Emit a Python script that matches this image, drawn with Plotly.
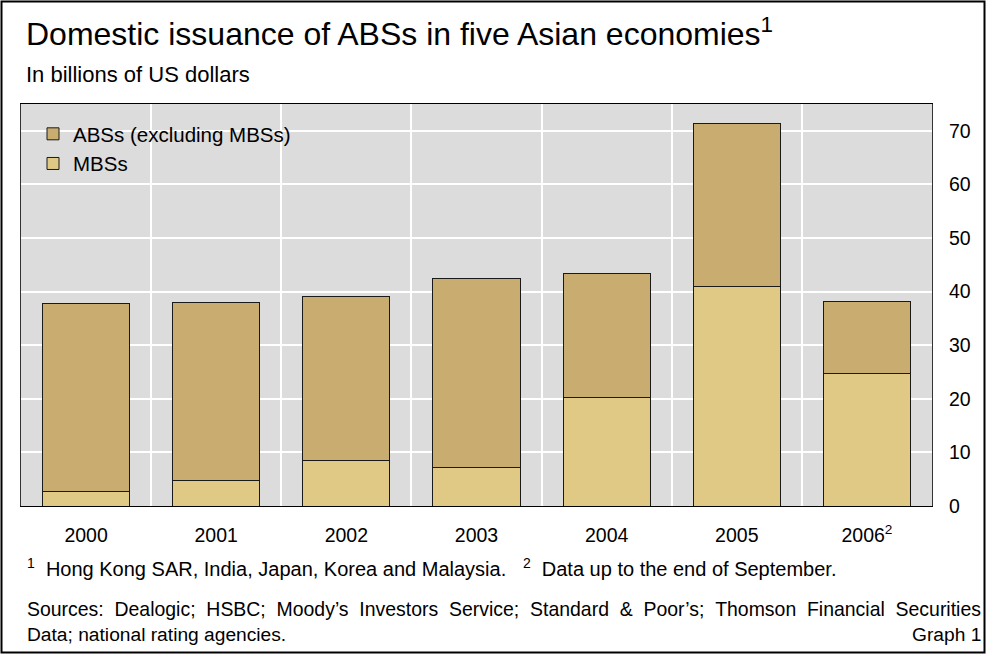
import plotly.graph_objects as go

# ---- data ----
years = ["2000", "2001", "2002", "2003", "2004", "2005", "2006"]
tick_labels = ["2000", "2001", "2002", "2003", "2004", "2005", "2006<sup>2</sup>"]
mbs = [2.7, 4.7, 8.5, 7.2, 20.2, 40.9, 24.8]
abs_ex_mbs = [35.0, 33.3, 30.6, 35.3, 23.1, 30.5, 13.3]

W, H = 992, 655
L, R, T, B = 21, 60, 104, 149
PW, PH = W - L - R, H - T - B

def fx(px):
    return (px - L) / PW

def fy(py):
    return (H - B - py) / PH

FONT = "Arial, Liberation Sans, sans-serif"

fig = go.Figure()
fig.add_trace(go.Bar(
    x=years, y=mbs, name="MBSs", legendrank=2,
    marker=dict(color="#E0C985", line=dict(color="#1a1a1a", width=1)),
    width=0.67,
))
fig.add_trace(go.Bar(
    x=years, y=abs_ex_mbs, name="ABSs (excluding MBSs)", legendrank=1,
    marker=dict(color="#C9AC6F", line=dict(color="#1a1a1a", width=1)),
    width=0.67,
))

fig.update_layout(
    width=W, height=H,
    margin=dict(l=L, r=R, t=T, b=B, autoexpand=False),
    barmode="stack",
    paper_bgcolor="white",
    plot_bgcolor="#DCDCDC",
    font=dict(family=FONT, size=19.5, color="black"),
    showlegend=True,
    legend=dict(
        x=fx(33), y=fy(114), xanchor="left", yanchor="top",
        bgcolor="rgba(0,0,0,0)", traceorder="normal",
        font=dict(size=20.5),
    ),
    xaxis=dict(
        type="category", tickvals=years, ticktext=tick_labels,
        tickson="boundaries", showgrid=True, gridcolor="white", gridwidth=2,
        ticks="", showline=True, linecolor="black", linewidth=1, mirror=True,
        tickfont=dict(size=19.5), ticklabelstandoff=12,
    ),
    yaxis=dict(
        side="right", range=[0, 75], dtick=10, tick0=0,
        showgrid=True, gridcolor="white", gridwidth=2,
        ticks="", showline=True, linecolor="#333", linewidth=1, mirror=True,
        tickfont=dict(size=19.5), ticklabelstandoff=12, zeroline=False,
    ),
    bargap=0.33,
)

nb = "\u00a0"
sources_words = ["Sources:", "Dealogic;", "HSBC;", "Moody’s", "Investors", "Service;",
                 "Standard", "&", "Poor’s;", "Thomson", "Financial", "Securities"]
annotations = [
    dict(text="Domestic issuance of ABSs in five Asian economies<sup>1</sup>",
         x=fx(24), y=fy(32), font=dict(size=32)),
    dict(text="In billions of US dollars", x=fx(24), y=fy(74), font=dict(size=22)),
    dict(text="<sup>1</sup>" + nb * 2 + "Hong Kong SAR, India, Japan, Korea and Malaysia." + nb * 3
         + "<sup>2</sup>" + nb * 2 + "Data up to the end of September.",
         x=fx(25), y=fy(567), font=dict(size=20)),
    dict(text=(nb * 2).join(sources_words), x=fx(25), y=fy(609), font=dict(size=19.45)),
    dict(text="Data; national rating agencies.", x=fx(25), y=fy(634), font=dict(size=19.2)),
]
for a in annotations:
    a.update(xref="paper", yref="paper", xanchor="left", yanchor="middle",
             showarrow=False, align="left")
    fig.add_annotation(**a)
fig.add_annotation(text="Graph 1", x=fx(983), y=fy(634), xref="paper", yref="paper",
                   xanchor="right", yanchor="middle", showarrow=False,
                   font=dict(size=19.2))

fig.add_shape(type="rect", xref="paper", yref="paper",
              x0=fx(1.5), x1=fx(984.5), y0=fy(652.5), y1=fy(1.5),
              line=dict(color="black", width=2), layer="above")

fig.write_html("out.html", config={"displayModeBar": False},
               post_script="document.body.style.margin='0';")
